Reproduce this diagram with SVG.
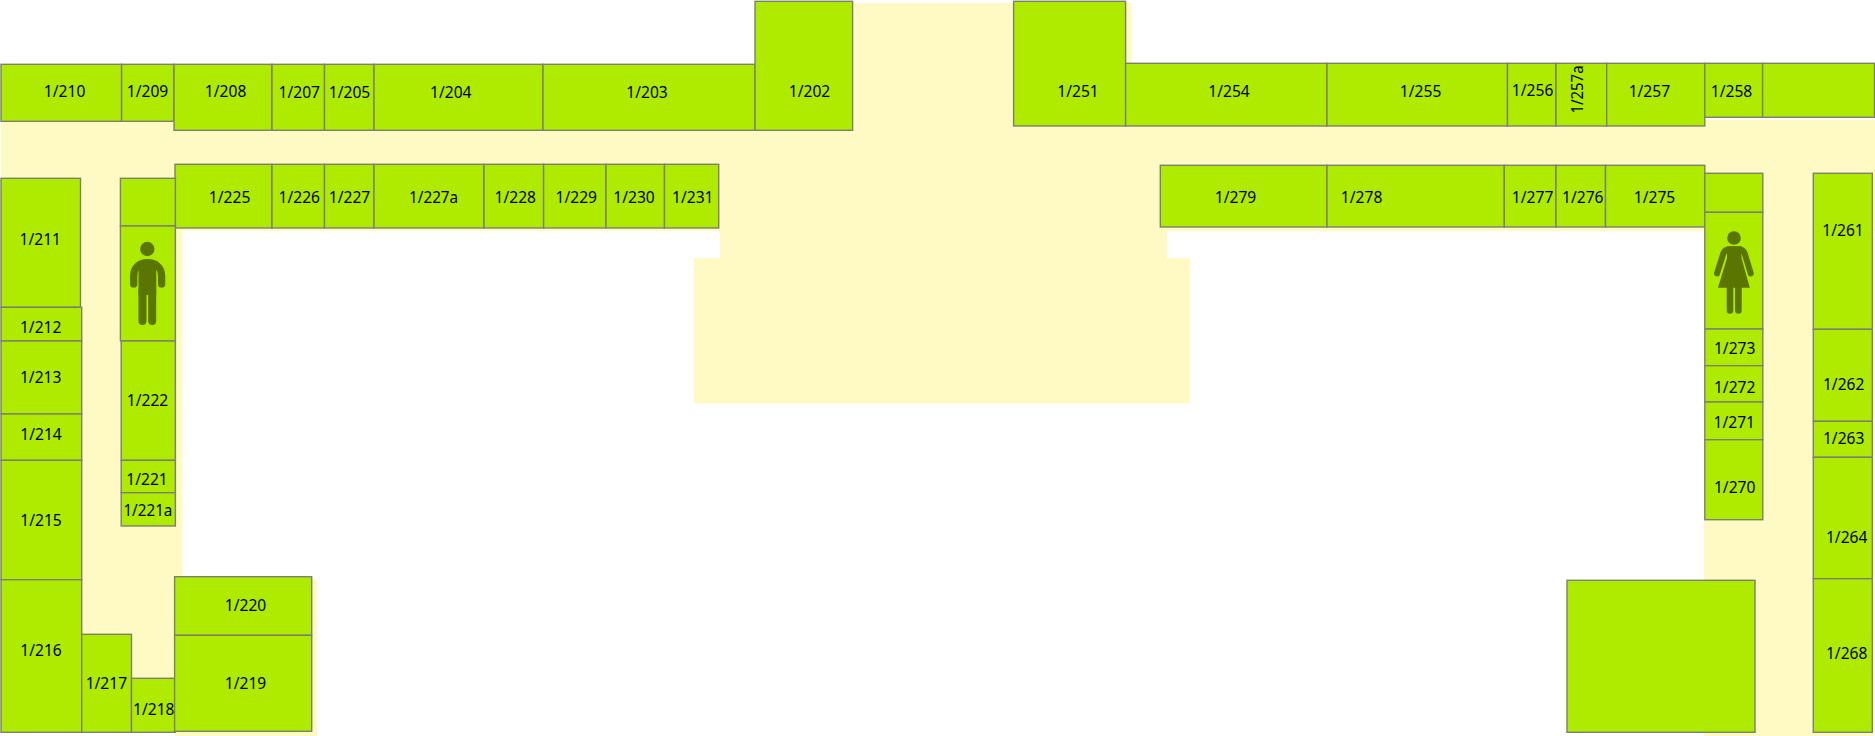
<svg xmlns="http://www.w3.org/2000/svg" width="1875" height="736" viewBox="0 0 1875 736">
<style>
.r{fill:#aeeb00;stroke:#7c8070;stroke-width:1.4}
.c{fill:#fff9c4}
text{font-family:"Noto Sans","Open Sans","Liberation Sans",sans-serif;font-size:16.500px;fill:#000;text-anchor:middle}
.i{fill:#5a7500}
.s{fill:none;stroke:#5a7500;stroke-linecap:round;stroke-linejoin:round}
</style>
<rect width="1875" height="736" fill="#fff"/>
<g id="corridors">
<rect class="c" x="1" y="120" width="1874" height="111"/>
<rect class="c" x="80" y="170" width="102.500" height="510"/>
<rect class="c" x="175" y="580" width="142" height="156"/>
<rect class="c" x="852" y="3" width="279.600" height="130"/>
<rect class="c" x="720" y="125" width="447" height="134"/>
<rect class="c" x="694" y="258.300" width="496" height="145"/>
<rect class="c" x="1704" y="120" width="171" height="70"/>
<rect class="c" x="1704" y="170" width="169.700" height="566"/>
</g>
<g id="rooms">
<g id="r210"><rect class="r" x="1" y="64.300" width="120.600" height="57"/><text x="64.600" y="96.700" textLength="41.500" lengthAdjust="spacingAndGlyphs">1/210</text></g>
<g id="r209"><rect class="r" x="121.600" y="64.300" width="52.400" height="57"/><text x="147.500" y="96.700" textLength="41.500" lengthAdjust="spacingAndGlyphs">1/209</text></g>
<g id="r208"><rect class="r" x="174" y="64.300" width="98" height="66"/><text x="225.600" y="96.700" textLength="41.500" lengthAdjust="spacingAndGlyphs">1/208</text></g>
<g id="r207"><rect class="r" x="272" y="64.300" width="52.500" height="66"/><text x="299.300" y="98.300" textLength="41.500" lengthAdjust="spacingAndGlyphs">1/207</text></g>
<g id="r205"><rect class="r" x="324.500" y="64.300" width="49.500" height="66"/><text x="349.500" y="98.300" textLength="41.500" lengthAdjust="spacingAndGlyphs">1/205</text></g>
<g id="r204"><rect class="r" x="374" y="64.300" width="169" height="66"/><text x="450.800" y="98.300" textLength="41.500" lengthAdjust="spacingAndGlyphs">1/204</text></g>
<g id="r203"><rect class="r" x="543" y="64.300" width="212" height="66"/><text x="647" y="98.300" textLength="41.500" lengthAdjust="spacingAndGlyphs">1/203</text></g>
<g id="r202"><rect class="r" x="755" y="1.300" width="97.600" height="129"/><text x="809.500" y="97" textLength="41.500" lengthAdjust="spacingAndGlyphs">1/202</text></g>
<g id="r225"><rect class="r" x="175" y="164.300" width="97" height="63.700"/><text x="229.600" y="203.300" textLength="41.500" lengthAdjust="spacingAndGlyphs">1/225</text></g>
<g id="r226"><rect class="r" x="272" y="164.300" width="52.500" height="63.700"/><text x="299.300" y="203.300" textLength="41.500" lengthAdjust="spacingAndGlyphs">1/226</text></g>
<g id="r227"><rect class="r" x="324.500" y="164.300" width="49.500" height="63.700"/><text x="349.500" y="203.300" textLength="41.500" lengthAdjust="spacingAndGlyphs">1/227</text></g>
<g id="r227a"><rect class="r" x="374" y="164.300" width="110" height="63.700"/><text x="433.600" y="203.300" textLength="49" lengthAdjust="spacingAndGlyphs">1/227a</text></g>
<g id="r228"><rect class="r" x="484" y="164.300" width="59.600" height="63.700"/><text x="515.300" y="203.300" textLength="41.500" lengthAdjust="spacingAndGlyphs">1/228</text></g>
<g id="r229"><rect class="r" x="543.600" y="164.300" width="62.400" height="63.700"/><text x="576.300" y="203.300" textLength="41.500" lengthAdjust="spacingAndGlyphs">1/229</text></g>
<g id="r230"><rect class="r" x="606" y="164.300" width="58.500" height="63.700"/><text x="634" y="203.300" textLength="41.500" lengthAdjust="spacingAndGlyphs">1/230</text></g>
<g id="r231"><rect class="r" x="664.500" y="164.300" width="54.200" height="63.700"/><text x="692.800" y="203.300" textLength="41.500" lengthAdjust="spacingAndGlyphs">1/231</text></g>
<g id="r211"><rect class="r" x="1" y="178.300" width="79.500" height="129"/><text x="40.300" y="245" textLength="41.500" lengthAdjust="spacingAndGlyphs">1/211</text></g>
<g id="r212"><rect class="r" x="1" y="307.300" width="80.700" height="33.700"/><text x="40.700" y="332.700" textLength="41.500" lengthAdjust="spacingAndGlyphs">1/212</text></g>
<g id="r213"><rect class="r" x="1" y="341" width="80.700" height="73"/><text x="40.700" y="383" textLength="41.500" lengthAdjust="spacingAndGlyphs">1/213</text></g>
<g id="r214"><rect class="r" x="1" y="414" width="80.700" height="46.300"/><text x="41" y="440" textLength="41.500" lengthAdjust="spacingAndGlyphs">1/214</text></g>
<g id="r215"><rect class="r" x="1" y="460.300" width="80.700" height="119.400"/><text x="41" y="525.700" textLength="41.500" lengthAdjust="spacingAndGlyphs">1/215</text></g>
<g id="r216"><rect class="r" x="1" y="579.700" width="80.700" height="152.600"/><text x="41" y="656" textLength="41.500" lengthAdjust="spacingAndGlyphs">1/216</text></g>
<g id="r217"><rect class="r" x="81.700" y="634.300" width="49.800" height="98"/><text x="106.400" y="689" textLength="41.500" lengthAdjust="spacingAndGlyphs">1/217</text></g>
<g id="r218"><rect class="r" x="131.500" y="678.300" width="43.900" height="54"/><text x="153.800" y="715" textLength="41.500" lengthAdjust="spacingAndGlyphs">1/218</text></g>
<g id="r220"><rect class="r" x="174.600" y="576.700" width="137.100" height="58.600"/><text x="245.500" y="611" textLength="41.500" lengthAdjust="spacingAndGlyphs">1/220</text></g>
<g id="r219"><rect class="r" x="174.600" y="635.300" width="137.100" height="96"/><text x="245.500" y="689" textLength="41.500" lengthAdjust="spacingAndGlyphs">1/219</text></g>
<g id="wc-men-lobby"><rect class="r" x="120.400" y="178.300" width="55" height="47.700"/></g>
<g id="wc-men"><rect class="r" x="120.400" y="226" width="55" height="115"/>
<circle class="i" cx="147.300" cy="249" r="7.200"/>
<path class="s" stroke-width="7.300" d="M133.700 283.900V276C133.700 267 140 262.700 147.500 262.700C155 262.700 161.600 267 161.600 276V283.900"/>
<rect class="i" x="138.500" y="262" width="17.800" height="33"/>
<path class="s" stroke-width="8" d="M142.500 290V321M152.200 290V321"/></g>
<g id="r222"><rect class="r" x="121.200" y="341" width="54.200" height="119.300"/><text x="147.500" y="406" textLength="41.500" lengthAdjust="spacingAndGlyphs">1/222</text></g>
<g id="r221"><rect class="r" x="121.200" y="460.300" width="54.200" height="32.400"/><text x="147" y="485" textLength="41.500" lengthAdjust="spacingAndGlyphs">1/221</text></g>
<g id="r221a"><rect class="r" x="121.200" y="492.700" width="54.200" height="33.300"/><text x="147.900" y="516" textLength="49" lengthAdjust="spacingAndGlyphs">1/221a</text></g>
<g id="r251"><rect class="r" x="1013.600" y="1.300" width="112" height="124.700"/><text x="1078" y="97" textLength="41.500" lengthAdjust="spacingAndGlyphs">1/251</text></g>
<g id="r254"><rect class="r" x="1125.600" y="63.300" width="201.400" height="62.700"/><text x="1229" y="97" textLength="41.500" lengthAdjust="spacingAndGlyphs">1/254</text></g>
<g id="r255"><rect class="r" x="1327" y="63.300" width="180.500" height="62.700"/><text x="1420.600" y="97" textLength="41.500" lengthAdjust="spacingAndGlyphs">1/255</text></g>
<g id="r256"><rect class="r" x="1507.500" y="63.300" width="48.500" height="62.700"/><text x="1532.600" y="96" textLength="41.500" lengthAdjust="spacingAndGlyphs">1/256</text></g>
<g id="r257a"><rect class="r" x="1556" y="63.300" width="50.700" height="62.700"/><text transform="translate(1582.800 89.500) rotate(-90)" textLength="48" lengthAdjust="spacingAndGlyphs">1/257a</text></g>
<g id="r257"><rect class="r" x="1606.700" y="63.300" width="98.100" height="62.700"/><text x="1649.400" y="97" textLength="41.500" lengthAdjust="spacingAndGlyphs">1/257</text></g>
<g id="r258"><rect class="r" x="1704.800" y="63.300" width="57.800" height="54"/><text x="1731.500" y="97" textLength="41.500" lengthAdjust="spacingAndGlyphs">1/258</text></g>
<g id="r258b"><rect class="r" x="1762.600" y="63.300" width="111.900" height="54"/></g>
<g id="r279"><rect class="r" x="1160.300" y="165.300" width="166.700" height="61.700"/><text x="1235.500" y="203.300" textLength="41.500" lengthAdjust="spacingAndGlyphs">1/279</text></g>
<g id="r278"><rect class="r" x="1327" y="165.300" width="177.300" height="61.700"/><text x="1361.600" y="203.300" textLength="41.500" lengthAdjust="spacingAndGlyphs">1/278</text></g>
<g id="r277"><rect class="r" x="1504.300" y="165.300" width="51.700" height="61.700"/><text x="1532.600" y="203.300" textLength="41.500" lengthAdjust="spacingAndGlyphs">1/277</text></g>
<g id="r276"><rect class="r" x="1556" y="165.300" width="49.500" height="61.700"/><text x="1582.800" y="203.300" textLength="41.500" lengthAdjust="spacingAndGlyphs">1/276</text></g>
<g id="r275"><rect class="r" x="1605.500" y="165.300" width="99.300" height="61.700"/><text x="1654.500" y="203.300" textLength="41.500" lengthAdjust="spacingAndGlyphs">1/275</text></g>
<g id="wc-women-lobby"><rect class="r" x="1704.800" y="173.300" width="58" height="39"/></g>
<g id="wc-women"><rect class="r" x="1704.800" y="212.300" width="58" height="116.700"/>
<circle class="i" cx="1734" cy="238" r="6.800"/>
<path class="s" stroke-width="6" d="M1717 273.500L1723.500 253Q1725 249.500 1729 249.500H1739Q1743 249.500 1744.500 253L1750.800 273.500"/>
<path class="i" d="M1727 246.300H1741.500V258L1749.800 287.700H1718L1727 258Z"/>
<path class="s" stroke-width="6.600" d="M1730 285V310.500M1738.400 285V310.500"/></g>
<g id="r273"><rect class="r" x="1704.800" y="329" width="58" height="36.700"/><text x="1734.700" y="354" textLength="41.500" lengthAdjust="spacingAndGlyphs">1/273</text></g>
<g id="r272"><rect class="r" x="1704.800" y="365.700" width="58" height="36.300"/><text x="1734.700" y="393" textLength="41.500" lengthAdjust="spacingAndGlyphs">1/272</text></g>
<g id="r271"><rect class="r" x="1704.800" y="402" width="58" height="37.700"/><text x="1734.300" y="428" textLength="41.500" lengthAdjust="spacingAndGlyphs">1/271</text></g>
<g id="r270"><rect class="r" x="1704.800" y="439.700" width="58" height="80"/><text x="1734.700" y="493" textLength="41.500" lengthAdjust="spacingAndGlyphs">1/270</text></g>
<g id="r261"><rect class="r" x="1813.300" y="173.300" width="59" height="156"/><text x="1843" y="236" textLength="41.500" lengthAdjust="spacingAndGlyphs">1/261</text></g>
<g id="r262"><rect class="r" x="1813.300" y="329.300" width="59" height="92"/><text x="1843.700" y="390" textLength="41.500" lengthAdjust="spacingAndGlyphs">1/262</text></g>
<g id="r263"><rect class="r" x="1813.300" y="421.300" width="59" height="36"/><text x="1843.700" y="444" textLength="41.500" lengthAdjust="spacingAndGlyphs">1/263</text></g>
<g id="r264"><rect class="r" x="1813.300" y="457.300" width="59" height="121.400"/><text x="1846.700" y="543" textLength="41.500" lengthAdjust="spacingAndGlyphs">1/264</text></g>
<g id="r268"><rect class="r" x="1813.300" y="578.700" width="59" height="153.600"/><text x="1846.700" y="659" textLength="41.500" lengthAdjust="spacingAndGlyphs">1/268</text></g>
<g id="r-unnamed"><rect class="r" x="1567" y="580.300" width="188" height="152"/></g>
</g>
</svg>
